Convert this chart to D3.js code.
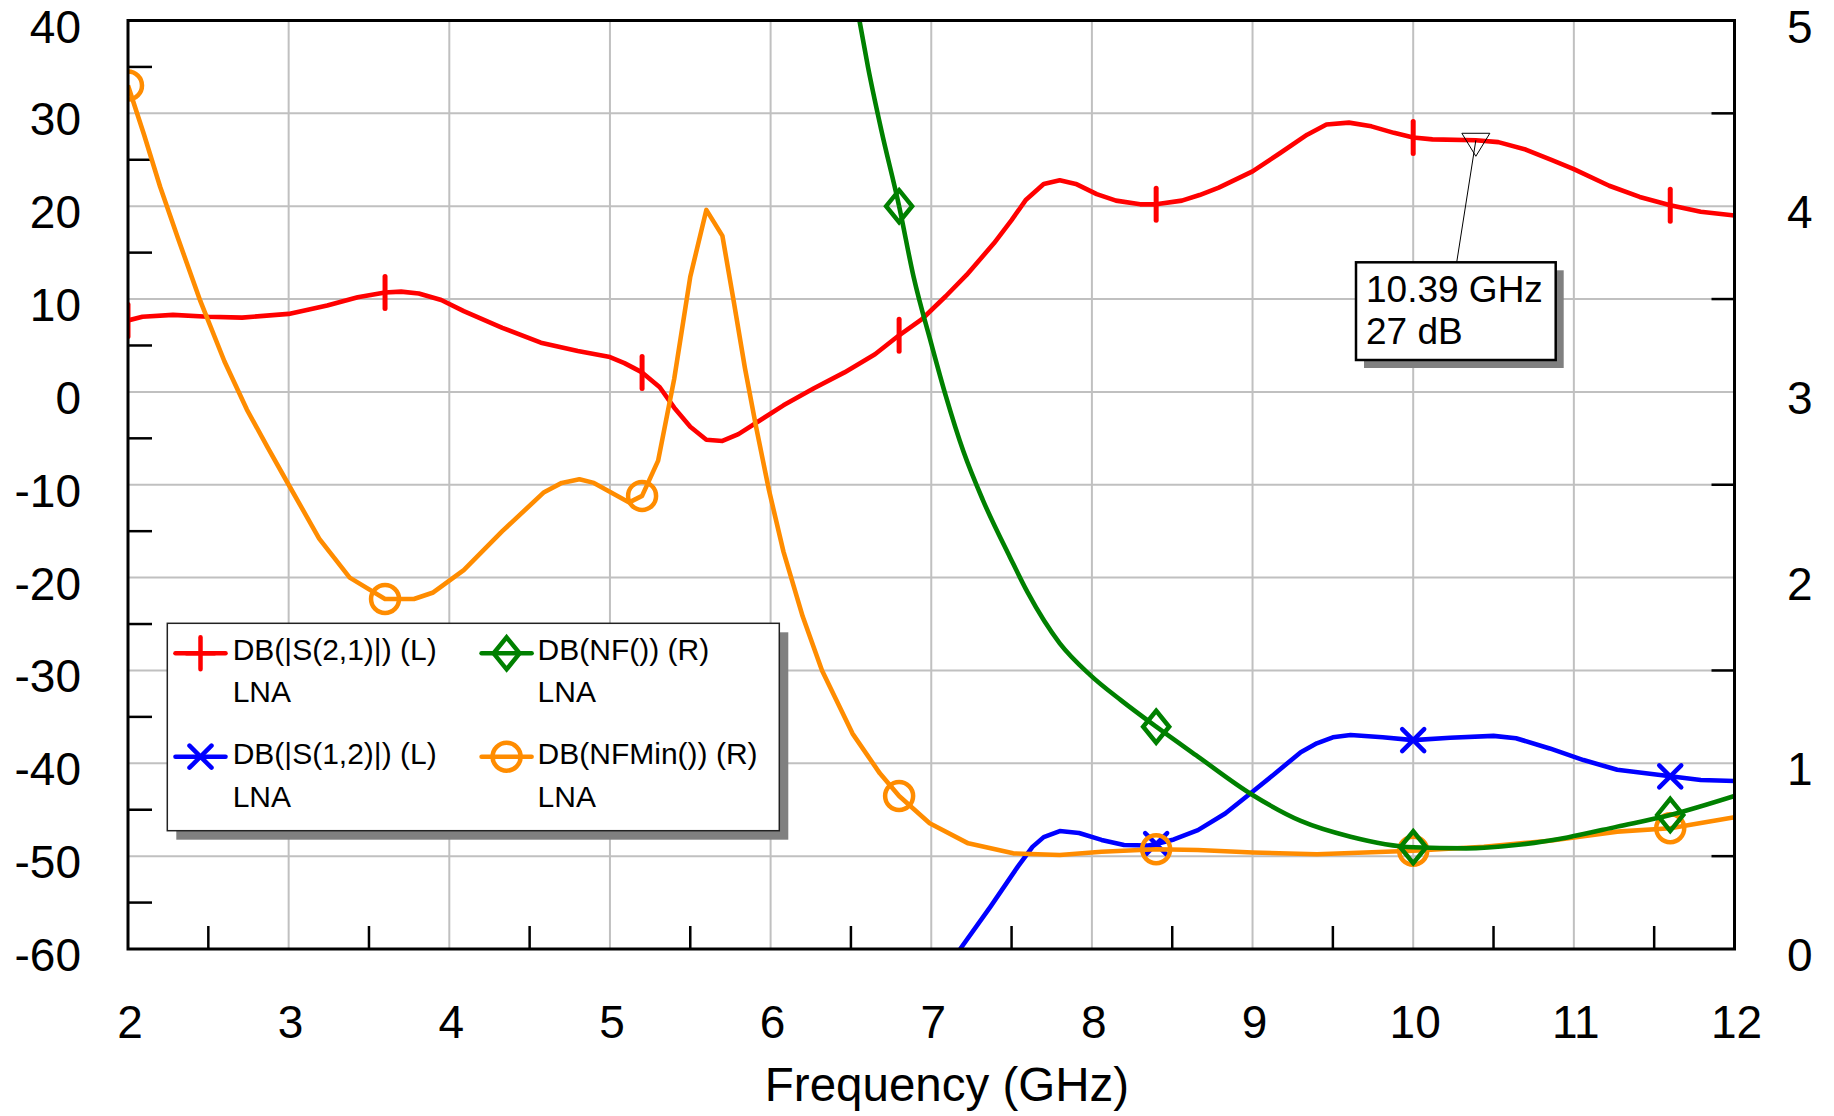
<!DOCTYPE html>
<html><head><meta charset="utf-8">
<script src="https://cdn.jsdelivr.net/npm/d3@7"></script>
<style>html,body{margin:0;padding:0;background:#fff;} svg{display:block;}</style>
</head><body>
<svg id="chart" width="1834" height="1116"></svg>
<script>
// ---------- data ----------
const freqTicks = [2,3,4,5,6,7,8,9,10,11,12];
const leftTicks = [-60,-50,-40,-30,-20,-10,0,10,20,30,40];
const rightTicks = [0,1,2,3,4,5];
const freqMinor = [2.5,3.5,4.5,5.5,6.5,7.5,8.5,9.5,10.5,11.5];
const leftMinor = [-55,-45,-35,-25,-15,-5,5,15,25,35];
const rightMinor = [0.5,1.5,2.5,3.5,4.5];
const markerFreqs = [2.0,3.6,5.2,6.8,8.4,10.0,11.6];

// DB(|S(2,1)|) (L)
const s21Freq = [2.00,2.09,2.28,2.50,2.71,3.00,3.24,3.43,3.60,3.70,3.81,3.95,4.09,4.33,4.57,4.80,5.00,5.09,5.20,5.31,5.40,5.50,5.60,5.70,5.80,5.94,6.08,6.27,6.46,6.65,6.80,6.94,7.09,7.22,7.39,7.50,7.59,7.70,7.80,7.90,8.03,8.15,8.30,8.40,8.56,8.67,8.79,9.00,9.17,9.34,9.46,9.60,9.74,9.88,10.00,10.12,10.39,10.53,10.70,10.86,11.00,11.22,11.41,11.60,11.79,12.00];
const s21Vals = [7.7,8.1,8.3,8.1,8.0,8.4,9.3,10.2,10.7,10.8,10.6,9.9,8.7,6.9,5.3,4.4,3.75,3.1,2.1,0.5,-1.7,-3.75,-5.15,-5.28,-4.55,-3.0,-1.45,0.4,2.1,4.05,6.1,7.8,10.3,12.6,16.0,18.5,20.7,22.4,22.8,22.4,21.3,20.6,20.2,20.2,20.6,21.2,22.0,23.75,25.7,27.7,28.8,29.0,28.6,27.9,27.4,27.2,27.1,26.9,26.1,25.0,24.0,22.2,21.0,20.1,19.4,19.0];

// DB(|S(1,2)|) (L)
const s12Freq = [7.18,7.37,7.54,7.63,7.70,7.80,7.92,8.06,8.20,8.35,8.40,8.51,8.66,8.83,8.99,9.14,9.30,9.40,9.50,9.61,9.81,10.00,10.23,10.50,10.64,10.85,11.06,11.27,11.60,11.79,12.00];
const s12Vals = [-60.0,-55.4,-51.1,-49.0,-47.95,-47.3,-47.5,-48.25,-48.8,-48.85,-48.7,-48.2,-47.2,-45.4,-43.2,-41.1,-38.8,-37.85,-37.2,-36.95,-37.2,-37.5,-37.25,-37.05,-37.3,-38.4,-39.65,-40.7,-41.4,-41.8,-41.9];

// DB(NF()) (R)
const nfFreq = [6.553,6.606,6.689,6.80,6.89,7.00,7.09,7.20,7.32,7.49,7.60,7.80,7.99,8.18,8.40,8.66,8.99,9.30,9.61,10.00,10.33,10.64,10.96,11.27,11.60,12.00];
const nfVals = [5.0,4.75,4.41,4.0,3.62,3.26,2.98,2.68,2.42,2.11,1.92,1.646,1.475,1.34,1.197,1.036,0.835,0.69,0.605,0.548,0.542,0.56,0.601,0.659,0.722,0.824];

// DB(NFMin()) (R)
const nfminFreq = [2.00,2.10,2.20,2.31,2.45,2.60,2.74,2.87,3.00,3.19,3.38,3.60,3.78,3.90,4.09,4.33,4.59,4.70,4.81,4.90,5.12,5.20,5.30,5.40,5.50,5.60,5.70,5.77,5.84,5.91,5.99,6.08,6.20,6.32,6.51,6.68,6.80,6.99,7.23,7.51,7.80,8.06,8.40,8.66,9.00,9.40,10.00,10.44,10.85,11.27,11.60,12.00];
const nfminVals = [4.65,4.385,4.105,3.83,3.49,3.165,2.905,2.70,2.50,2.21,2.00,1.885,1.885,1.92,2.04,2.25,2.46,2.51,2.53,2.51,2.405,2.44,2.63,3.07,3.62,3.98,3.84,3.49,3.13,2.81,2.47,2.14,1.79,1.50,1.16,0.946,0.824,0.677,0.569,0.515,0.506,0.524,0.537,0.533,0.52,0.51,0.529,0.551,0.583,0.632,0.650,0.709];

const legendNames = ["DB(|S(2,1)|) (L)","DB(NF()) (R)","DB(|S(1,2)|) (L)","DB(NFMin()) (R)"];
const legendSub = ["LNA","LNA","LNA","LNA"];
const markerLabel = ["10.39 GHz","27 dB"];
const markerPoint = {f:10.39, v:27.1};

// ---------- layout ----------
const FONT = "'Liberation Sans', Arial, Helvetica, sans-serif";
const L = 128, R = 1734.5, T = 20.5, B = 949;
const LW_LINE = 4.6;
const svg = d3.select("#chart");
const x = d3.scaleLinear().domain([2,12]).range([L,R]);
const yL = d3.scaleLinear().domain([-60,40]).range([B,T]);
const yR = d3.scaleLinear().domain([0,5]).range([B,T]);

svg.append("defs").append("clipPath").attr("id","plotclip")
  .append("rect").attr("x",L).attr("y",T).attr("width",R-L).attr("height",B-T);

// grid
const grid = svg.append("g").attr("stroke","#c0c0c0").attr("stroke-width",2);
grid.selectAll("line.v").data(freqTicks.filter(d=>d>2&&d<12)).join("line")
  .attr("x1",d=>x(d)).attr("x2",d=>x(d)).attr("y1",T).attr("y2",B);
grid.selectAll("line.h").data(leftTicks.filter(d=>d>-60&&d<40)).join("line")
  .attr("y1",d=>yL(d)).attr("y2",d=>yL(d)).attr("x1",L).attr("x2",R);

// minor ticks (inside)
const ticks = svg.append("g").attr("stroke","#000").attr("stroke-width",2.5);
ticks.selectAll("line.xm").data(freqMinor).join("line")
  .attr("x1",d=>x(d)).attr("x2",d=>x(d)).attr("y1",B).attr("y2",B-23);
ticks.selectAll("line.lm").data(leftMinor).join("line")
  .attr("y1",d=>yL(d)).attr("y2",d=>yL(d)).attr("x1",L).attr("x2",L+24);
ticks.selectAll("line.rm").data(rightMinor).join("line")
  .attr("y1",d=>yR(d)).attr("y2",d=>yR(d)).attr("x1",R).attr("x2",R-23);

// tick labels
const lab = svg.append("g").attr("font-family",FONT).attr("font-size",46).attr("fill","#000");
lab.selectAll("text.l").data(leftTicks).join("text")
  .attr("x",81).attr("y",d=>yL(d)+22).attr("text-anchor","end").text(d=>d);
lab.selectAll("text.r").data(rightTicks).join("text")
  .attr("x",1787).attr("y",d=>yR(d)+22).attr("text-anchor","start").text(d=>d);
lab.selectAll("text.x").data(freqTicks).join("text")
  .attr("x",d=>x(d)+2).attr("y",1038).attr("text-anchor","middle").text(d=>d);
svg.append("text").attr("font-family",FONT).attr("font-size",47.5)
  .attr("x",947).attr("y",1101).attr("text-anchor","middle").text("Frequency (GHz)");

// marker symbol paths
function sym(type, cx, cy, inLegend){
  if(type==="plus") return inLegend ? `M${cx-14},${cy}H${cx+14}M${cx},${cy-16}V${cy+16}` : `M${cx},${cy-16}V${cy+16}`;
  if(type==="cross") return `M${cx-11},${cy-11}L${cx+11},${cy+11}M${cx-11},${cy+11}L${cx+11},${cy-11}`;
  if(type==="diamond") return `M${cx},${cy-16}L${cx+13},${cy}L${cx},${cy+16}L${cx-13},${cy}Z`;
  if(type==="circle") return `M${cx-14},${cy}A14,14 0 1,0 ${cx+14},${cy}A14,14 0 1,0 ${cx-14},${cy}Z`;
}

const series = [
  {f:s21Freq, v:s21Vals, y:yL, color:"#ff0000", sym:"plus", curve:d3.curveLinear},
  {f:s12Freq, v:s12Vals, y:yL, color:"#0000ff", sym:"cross", curve:d3.curveLinear},
  {f:nfminFreq, v:nfminVals, y:yR, color:"#ff8c00", sym:"circle", curve:d3.curveLinear},
  {f:nfFreq, v:nfVals, y:yR, color:"#008000", sym:"diamond", curve:d3.curveMonotoneX},
];

const plot = svg.append("g").attr("clip-path","url(#plotclip)");
series.forEach(s=>{
  const pts = s.f.map((f,i)=>[f,s.v[i]]);
  const line = d3.line().x(d=>x(d[0])).y(d=>s.y(d[1])).curve(s.curve);
  plot.append("path").attr("d",line(pts)).attr("fill","none")
    .attr("stroke",s.color).attr("stroke-width",LW_LINE).attr("stroke-linejoin","round");
  const mk = pts.filter(p=>markerFreqs.some(m=>Math.abs(m-p[0])<1e-6));
  plot.selectAll(null).data(mk).join("path")
    .attr("d",p=>sym(s.sym,x(p[0]),s.y(p[1]),false))
    .attr("fill","none").attr("stroke",s.color).attr("stroke-width",s.sym==="plus"?5:4.5)
    .attr("stroke-linecap","round");
});

// frame
svg.append("rect").attr("x",L).attr("y",T).attr("width",R-L).attr("height",B-T)
  .attr("fill","none").attr("stroke","#000").attr("stroke-width",3);

// legend
const lg = svg.append("g");
const LX=167.3, LY=623.3, LW=612, LH=207.4;
lg.append("rect").attr("x",LX+9).attr("y",LY+9).attr("width",LW).attr("height",LH).attr("fill","#808080");
lg.append("rect").attr("x",LX).attr("y",LY).attr("width",LW).attr("height",LH).attr("fill","#fff")
  .attr("stroke","#222").attr("stroke-width",1.5);
const legendColors = ["#ff0000","#008000","#0000ff","#ff8c00"];
const legendSyms = ["plus","diamond","cross","circle"];
const colX = [175.5, 481.6], textX = [232.7, 537.6];
const rowY = [653.3, 756.7], nameBase=[660,764], subBase=[702,807];
legendNames.forEach((name,i)=>{
  const c=i%2, r=Math.floor(i/2);
  const cx = colX[c]+25;
  lg.append("line").attr("x1",colX[c]).attr("x2",colX[c]+50).attr("y1",rowY[r]).attr("y2",rowY[r])
    .attr("stroke",legendColors[i]).attr("stroke-width",LW_LINE).attr("stroke-linecap","round");
  lg.append("path").attr("d",sym(legendSyms[i],cx,rowY[r],true)).attr("fill","none")
    .attr("stroke",legendColors[i]).attr("stroke-width",4.5).attr("stroke-linecap","round");
  lg.append("text").attr("x",textX[c]).attr("y",nameBase[r]).attr("font-family",FONT)
    .attr("font-size",30).text(name);
  lg.append("text").attr("x",textX[c]).attr("y",subBase[r]).attr("font-family",FONT)
    .attr("font-size",30).text(legendSub[i]);
});

// data marker
const mx = x(markerPoint.f), my = yL(markerPoint.v);
const mg = svg.append("g");
mg.append("path").attr("d",`M${mx-14},${my-7}L${mx+14},${my-7}L${mx},${my+16}Z`)
  .attr("fill","none").attr("stroke","#000").attr("stroke-width",1);
mg.append("line").attr("x1",mx).attr("y1",my).attr("x2",1456.7).attr("y2",262.3)
  .attr("stroke","#000").attr("stroke-width",1);
const BX=1356, BY=262.3, BW=199.7, BH=97.7;
mg.append("rect").attr("x",BX+8).attr("y",BY+8).attr("width",BW).attr("height",BH).attr("fill","#808080");
mg.append("rect").attr("x",BX).attr("y",BY).attr("width",BW).attr("height",BH).attr("fill","#fff")
  .attr("stroke","#000").attr("stroke-width",2.5);
mg.append("text").attr("x",1366).attr("y",302).attr("font-family",FONT).attr("font-size",37).text(markerLabel[0]);
mg.append("text").attr("x",1366).attr("y",344).attr("font-family",FONT).attr("font-size",37).text(markerLabel[1]);
</script>
</body></html>
